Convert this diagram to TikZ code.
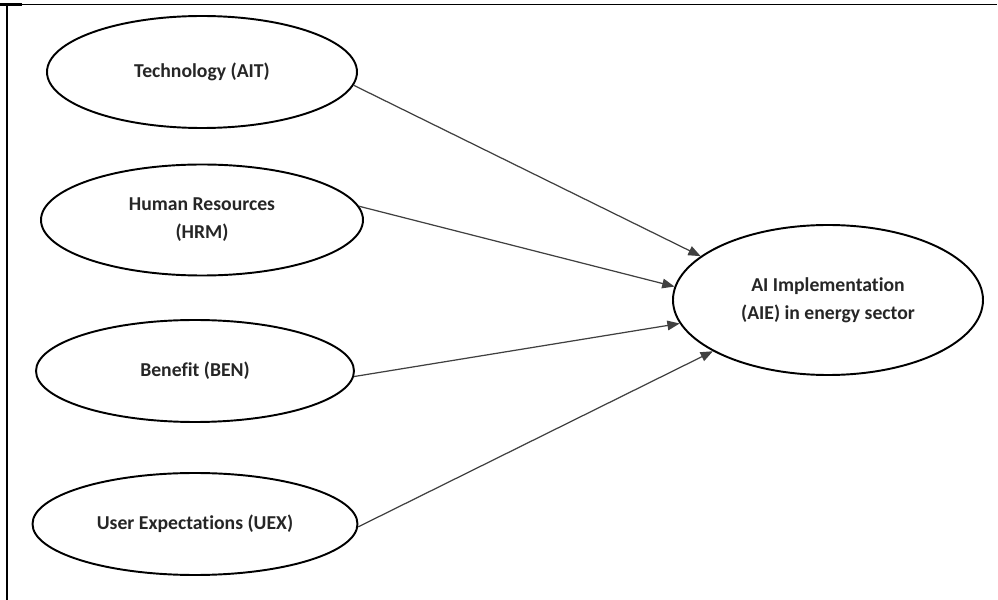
\documentclass[tikz,border=0pt]{standalone}
\usepackage{fontspec}
\setmainfont{Carlito}[RawFeature=-liga]
\usepackage{tikz}
\usetikzlibrary{shapes.geometric, arrows.meta, positioning, calc}
\tikzset{
  factor/.style = {
    ellipse, draw=black, line width=1.1pt, fill=white,
    inner sep=0pt, text centered, align=center,
    font=\bfseries\fontsize{11.2}{16}\selectfont, text=black!85
  },
  outcome/.style = {
    factor, minimum width=6.2cm, minimum height=3.0cm
  },
  myarrow/.style = {-{Triangle[length=7pt, width=5.5pt]}, line width=0.7pt, draw=black!75}
}
\begin{document}
\begin{tikzpicture}
  \useasboundingbox (0,0) rectangle (19.96,12);
  % Frame
  \draw[line width=1.1pt] (0,11.91) -- (19.94,11.91);
  \draw[line width=1.1pt] (0.14,11.91) -- (0.14,0);
  \draw[line width=1.6pt] (0,11.91) -- (0.44,11.91);

  % Nodes
  \node[factor, minimum width=6.2cm, minimum height=2.24cm] (ait) at (4.04,10.56) {Technology (AIT)};
  \node[factor, minimum width=6.44cm, minimum height=2.22cm] (hrm) at (4.04,7.60) {Human Resources\\(HRM)};
  \node[factor, minimum width=6.36cm, minimum height=2.04cm] (ben) at (3.90,4.58) {Benefit (BEN)};
  \node[factor, minimum width=6.5cm, minimum height=2.04cm] (uex) at (3.90,1.52) {User Expectations (UEX)};
  \node[outcome] (aie) at (16.56,6.0) {AI Implementation\\(AIE) in energy sector};

  % Connections
  \draw[myarrow] (ait.-5) -- (aie.161);
  \draw[myarrow] (hrm.5) -- (aie.175);
  \draw[myarrow] (ben.-2) -- (aie.189);
  \draw[myarrow] (uex.-1) -- (aie.204);
\end{tikzpicture}
\end{document}
